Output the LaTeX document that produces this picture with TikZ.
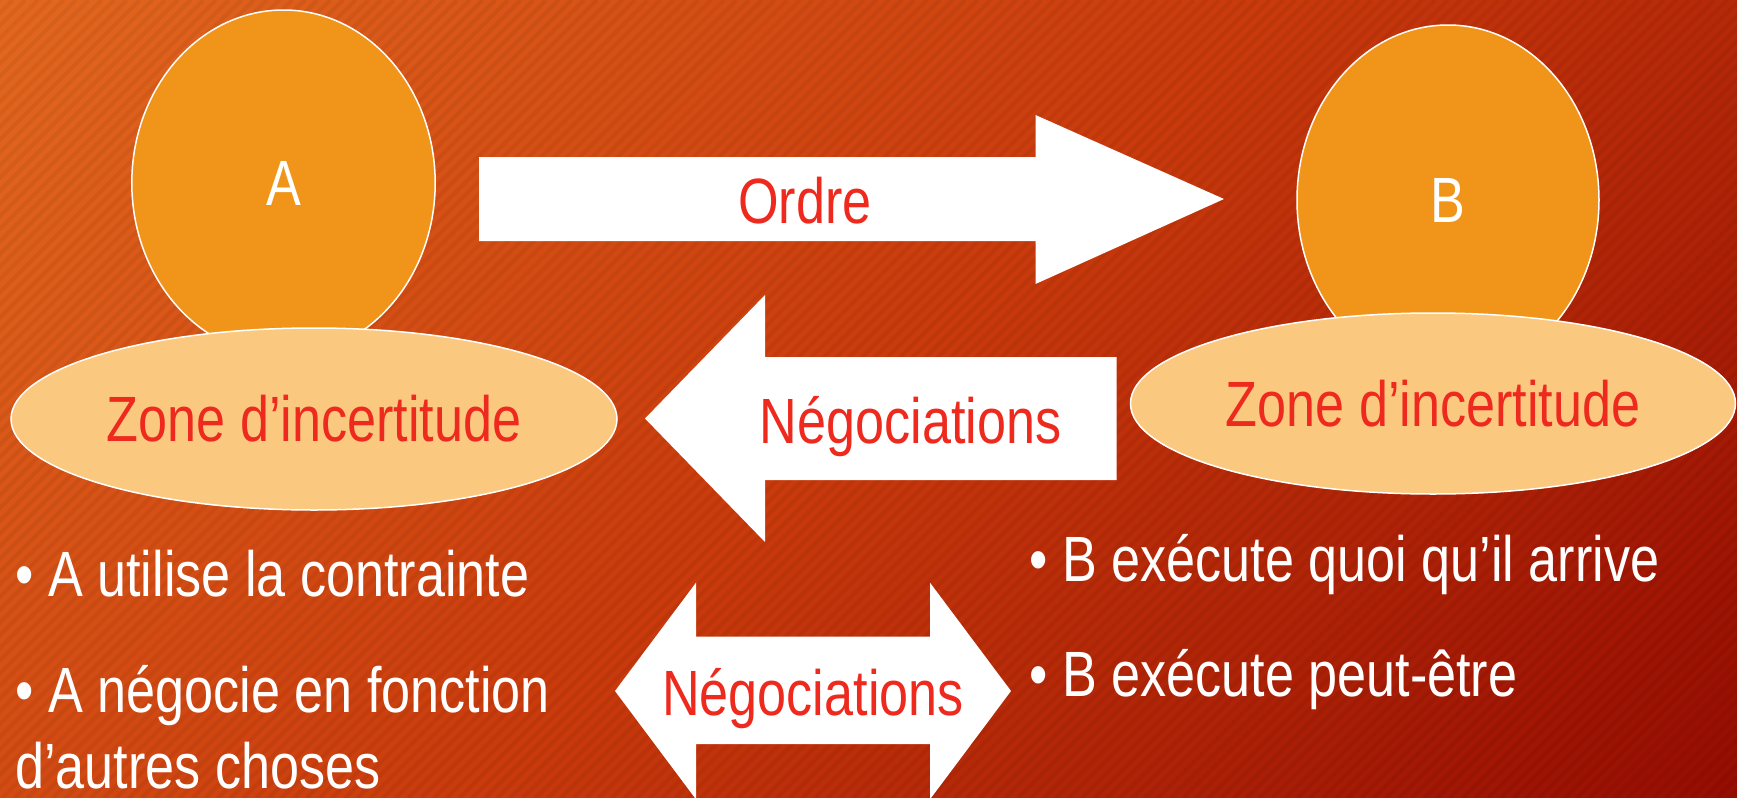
\documentclass[tikz,border=0pt]{standalone}
\usepackage{fontspec}
\setmainfont{Liberation Sans}[FakeStretch=0.815]
\usetikzlibrary{shapes.geometric}

\definecolor{bgTL}{RGB}{227,104,31}
\definecolor{bgMid}{RGB}{201,58,12}
\definecolor{bgBR}{RGB}{149,12,2}
\definecolor{personfill}{RGB}{240,149,26}
\definecolor{zonefill}{RGB}{251,200,128}
\definecolor{textred}{RGB}{238,42,30}

\begin{document}
\begin{tikzpicture}[x=0.5pt,y=-0.5pt,
  txt/.style={font=\fontsize{32}{37.5}\selectfont, inner sep=0pt, anchor=base},
  redtxt/.style={txt, text=textred},
  whitetxt/.style={txt, text=white},
  person/.style={ellipse, draw=white, line width=0.75pt, fill=personfill,
    inner sep=0pt, text=white, font=\fontsize{32}{37.5}\selectfont},
  zone/.style={ellipse, draw=white, line width=0.75pt, fill=zonefill,
    inner sep=0pt, text=textred, font=\fontsize{32}{37.5}\selectfont},
  blockarrow/.style={fill=white}]

\useasboundingbox (0,0) rectangle (1737,798);

% background: diagonal gradient with fine stripes
\begin{scope}
  \clip (0,0) rectangle (1737,798);
  \begin{scope}[transform canvas={rotate around={-45:(868.5,399)}}]
    \shade[left color=bgTL, right color=bgBR, middle color=bgMid]
      (-31.5,-501) rectangle (1768.5,1299);
  \end{scope}
  \foreach \k in {0,...,200}
    \draw[black, opacity=0.05, line width=2pt] (\k*12.7,0) -- ++(-798,798);
\end{scope}

% the two actors
\node[person, minimum width=151.7pt, minimum height=173pt] (A) at (283.5,183) {A};
\node[person, minimum width=151pt, minimum height=175pt] (B) at (1448,200) {B};

% their zones of uncertainty
\node[zone, minimum width=303pt, minimum height=91pt] (zA) at (314,419) {Zone d’incertitude};
\node[zone, minimum width=302.5pt, minimum height=90.5pt] (zB) at (1433,403.5) {Zone d’incertitude};

% order: A -> B
\fill[blockarrow] (479,157) -- (1035.5,157) -- (1035.5,115) -- (1224,199)
  -- (1035.5,284) -- (1035.5,241) -- (479,241) -- cycle;
\node[redtxt] (ordre) at (805,223.5) {Ordre};

% negotiations: B -> A
\fill[blockarrow] (1116.5,357) -- (765,357) -- (765,295) -- (645,418.5)
  -- (765,542) -- (765,480) -- (1116.5,480) -- cycle;
\node[redtxt] (nego1) at (910.5,443) {Négociations};

% negotiations both ways
\fill[blockarrow] (615,691) -- (696,582.7) -- (696,636.7) -- (930,636.7)
  -- (930,582.7) -- (1011,691) -- (930,799.3) -- (930,744) -- (696,744)
  -- (696,799.3) -- cycle;
\node[redtxt] (nego2) at (813,715) {Négociations};

% bullet points
\node[whitetxt, anchor=base west] (a1) at (15,596.7) {• A utilise la contrainte};
\node[whitetxt, anchor=base west] (a2) at (15,712.7) {• A négocie en fonction};
\node[whitetxt, anchor=base west] (a3) at (15,788) {d’autres choses};
\node[whitetxt, anchor=base west] (b1) at (1029,581.7) {• B exécute quoi qu’il arrive};
\node[whitetxt, anchor=base west] (b2) at (1029,696) {• B exécute peut-être};

\end{tikzpicture}
\end{document}
